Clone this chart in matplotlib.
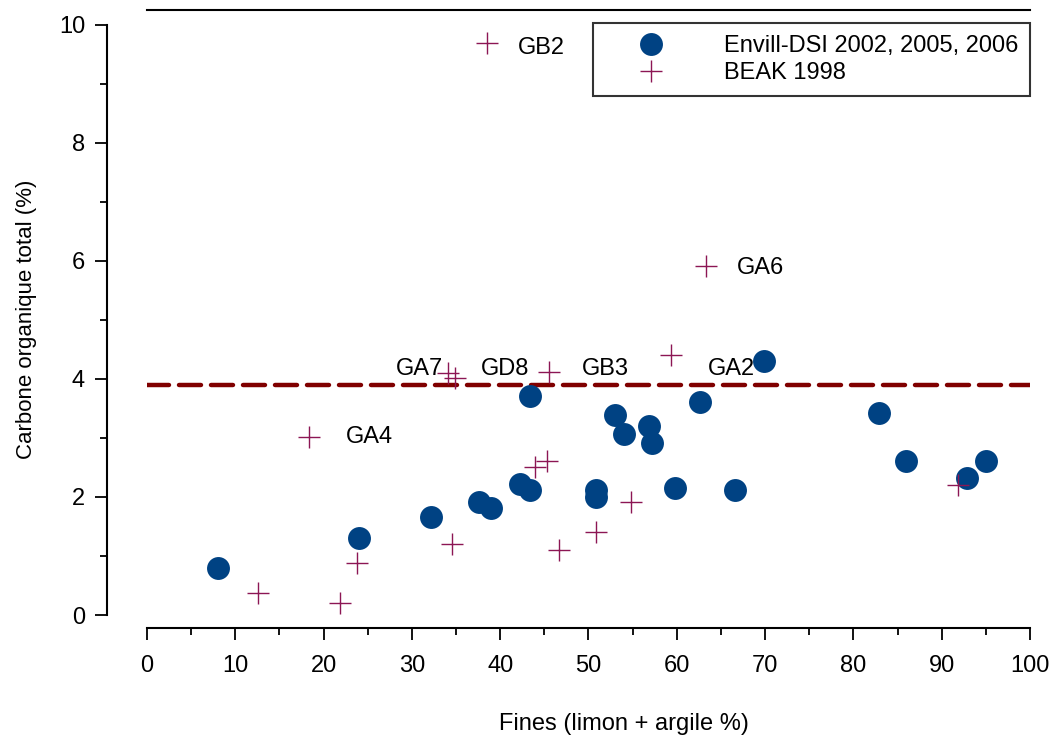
import matplotlib
matplotlib.use("Agg")
import matplotlib.pyplot as plt
from matplotlib.ticker import MultipleLocator

plt.rcParams['font.family'] = ['Liberation Sans', 'DejaVu Sans']

# Envill-DSI 2002, 2005, 2006
envill_fines = [8.0, 24.0, 32.2, 37.6, 39.0, 42.2, 43.4, 43.4, 50.9, 50.9, 53.0,
                54.0, 56.9, 57.2, 59.8, 62.6, 66.6, 69.9, 82.9, 86.0, 92.9, 95.0]
envill_cot = [0.8, 1.3, 1.66, 1.92, 1.81, 2.22, 2.12, 3.71, 2.12, 2.0, 3.39,
              3.06, 3.21, 2.91, 2.15, 3.61, 2.11, 4.31, 3.42, 2.61, 2.32, 2.61]

# BEAK 1998
beak_fines = [38.5, 63.3, 59.3, 34.1, 34.9, 45.5, 18.4, 44.0, 45.3, 34.6,
              23.8, 12.6, 21.9, 46.7, 50.9, 54.8, 91.8]
beak_cot = [9.69, 5.92, 4.41, 4.10, 4.01, 4.11, 3.01, 2.51, 2.61, 1.21,
            0.89, 0.37, 0.20, 1.11, 1.41, 1.91, 2.21]

# station labels: (text, x, y)
labels = [("GB2", 42.0, 9.6), ("GA6", 66.8, 5.88), ("GA4", 22.5, 3.01),
          ("GA7", 28.2, 4.16), ("GD8", 37.8, 4.16), ("GB3", 49.2, 4.16),
          ("GA2", 63.5, 4.16)]

threshold = 3.9

fig = plt.figure(figsize=(10.58, 7.42), dpi=100)
ax = fig.add_axes([0.1389, 0.1536, 0.8346, 0.8329])

ax.plot(envill_fines, envill_cot, 'o', color='#004283', ms=16.5, mec='none',
        label='Envill-DSI 2002, 2005, 2006', zorder=3)
ax.plot(beak_fines, beak_cot, '+', color='#8c1654', ms=16, mew=1.0,
        label='BEAK 1998', zorder=4)
ax.axhline(threshold, color='#800000', lw=3.2, dashes=(4.95, 2.25),
           dash_capstyle='round', zorder=2)

for txt, x, y in labels:
    ax.text(x, y, txt, fontsize=17, va='center', ha='left', zorder=5)

ax.set_xlim(0, 100)
ax.set_ylim(-0.22, 10.25)

ax.spines['right'].set_visible(False)
ax.spines['left'].set_position(('outward', 29))
ax.spines['left'].set_bounds(0, 10)
for s in ax.spines.values():
    s.set_linewidth(1.5)

ax.xaxis.set_major_locator(MultipleLocator(10))
ax.xaxis.set_minor_locator(MultipleLocator(5))
ax.yaxis.set_major_locator(MultipleLocator(2))
ax.yaxis.set_minor_locator(MultipleLocator(1))
ax.tick_params(which='major', length=8.6, width=1.3, labelsize=17, direction='out')
ax.tick_params(which='minor', length=5, width=1.3, direction='out')
ax.tick_params(axis='x', which='major', pad=11)
ax.tick_params(axis='y', which='major', pad=7)

ax.set_xlabel('Fines (limon + argile %)', fontsize=17)
ax.xaxis.set_label_coords(0.54, -0.137)
ax.set_ylabel('Carbone organique total (%)', fontsize=16, labelpad=16)

leg = ax.legend(loc='upper right', bbox_to_anchor=(1.0, 0.979), fontsize=17,
                frameon=True, fancybox=False, edgecolor='black',
                handletextpad=1.15, borderpad=0.5, labelspacing=0.22,
                handlelength=3.9, borderaxespad=0)
leg.get_frame().set_linewidth(1.5)

fig.savefig('out.png', dpi=100)
